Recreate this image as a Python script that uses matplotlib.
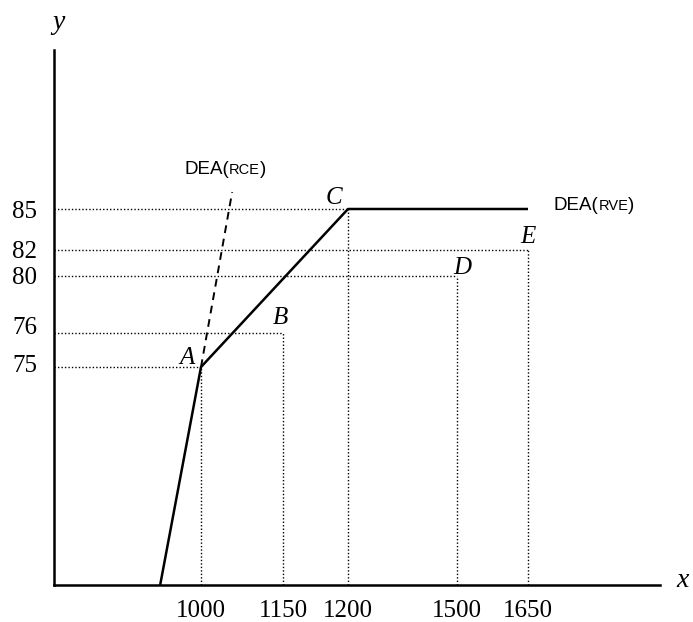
import numpy as np
import matplotlib.pyplot as plt
from matplotlib.offsetbox import TextArea, HPacker, AnnotationBbox
from matplotlib.transforms import ScaledTranslation

# 점 (투입 x, 산출 y)
names = ['A', 'B', 'C', 'D', 'E']
x_vals = [1000, 1150, 1200, 1500, 1650]
y_vals = [75, 76, 85, 80, 82]

# 변동규모수익 (RVE) 프론티어
rve_x = [900, 1000, 1200, 1650]
rve_y = [60, 75, 85, 85]

# 불변규모수익 (RCE) 점선
rce_x = [1000, 1057]
rce_y = [75, 86.6]

# 축 눈금 (개략도라서 간격이 일정하지 않음)
xticks = [1000, 1150, 1200, 1500, 1650]
yticks = [75, 76, 80, 82, 85]

# 개략도용 구간별 선형 스케일
xk = [640, 1000, 1150, 1200, 1500, 1650, 1950]
xp = [0, 147, 229, 294, 403, 474, 606]
yk = [60, 75, 76, 80, 82, 85, 100]
yp = [0, 218, 252, 309, 335, 376, 535]

fx = (lambda v: np.interp(v, xk, xp), lambda v: np.interp(v, xp, xk))
fy = (lambda v: np.interp(v, yk, yp), lambda v: np.interp(v, yp, yk))

fig = plt.figure(figsize=(6.93, 6.22), dpi=100)
ax = fig.add_axes([54/693, 37/622, 606/693, 535/622])
ax.set_xscale('function', functions=fx)
ax.set_yscale('function', functions=fy)
ax.set_xlim(xk[0], xk[-1])
ax.set_ylim(yk[0], yk[-1])

for s in ['top', 'right']:
    ax.spines[s].set_visible(False)
for s in ['left', 'bottom']:
    ax.spines[s].set_linewidth(1.8)

serif = 'Liberation Serif'
ax.set_xticks(xticks)
ax.set_xticklabels([str(t) for t in xticks], fontfamily=serif, fontsize=18)
ax.set_yticks(yticks)
ax.set_yticklabels([str(t) for t in yticks], fontfamily=serif, fontsize=18)
ax.xaxis.set_minor_locator(plt.NullLocator())
ax.yaxis.set_minor_locator(plt.NullLocator())
ax.tick_params(axis='x', length=0, pad=11)
ax.tick_params(axis='y', length=0, pad=12)

# 75, 76 라벨은 조금 위로
for lab in ax.get_yticklabels():
    if lab.get_text() == '76':
        lab.set_transform(lab.get_transform() + ScaledTranslation(0, 7/100, fig.dpi_scale_trans))
    if lab.get_text() == '75':
        lab.set_transform(lab.get_transform() + ScaledTranslation(0, 4/100, fig.dpi_scale_trans))

# 점선 보조선
for xv, yv in zip(x_vals, y_vals):
    ax.plot([xk[0], xv], [yv, yv], color='black', lw=1.0, ls=(0, (1, 1.5)))
    ax.plot([xv, xv], [yk[0], yv], color='black', lw=1.0, ls=(0, (1, 1.5)))

ax.plot(rve_x, rve_y, color='black', lw=1.8, solid_capstyle='butt')
ax.plot(rce_x, rce_y, color='black', lw=1.4, ls=(0, (4, 3)))

# 점 이름
offs = {'A': (-14, 9), 'B': (-3, 15), 'C': (-14, 11), 'D': (5, 8), 'E': (0, 13)}
for n, xv, yv in zip(names, x_vals, y_vals):
    ax.annotate(n, (xv, yv), xytext=offs[n], textcoords='offset pixels',
                ha='center', va='center', fontfamily=serif, style='italic', fontsize=18)

# DEA(RCE), DEA(RVE) 라벨 (작은 대문자)
def dea_label(sub, xy):
    parts = [TextArea('DEA(', textprops=dict(fontfamily='Liberation Sans', fontsize=13.5)),
             TextArea(sub, textprops=dict(fontfamily='Liberation Sans', fontsize=10.5)),
             TextArea(')', textprops=dict(fontfamily='Liberation Sans', fontsize=13.5))]
    box = HPacker(children=parts, align='baseline', pad=0, sep=0)
    ab = AnnotationBbox(box, xy, xycoords='figure pixels', frameon=False, box_alignment=(0.5, 0.5))
    fig.add_artist(ab)

dea_label('RCE', (225, 622-170))
dea_label('RVE', (594, 622-205))

ax.text(0.008, 1.052, 'y', transform=ax.transAxes, ha='center', va='center',
        fontfamily=serif, style='italic', fontsize=20)
ax.text(1.038, 0.009, 'x', transform=ax.transAxes, ha='center', va='center',
        fontfamily=serif, style='italic', fontsize=20)

fig.savefig('out.png', dpi=100)
